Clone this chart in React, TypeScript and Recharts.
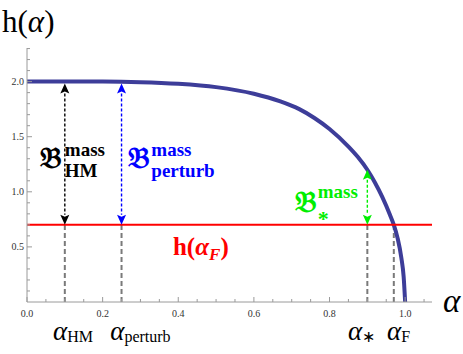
import React from "react";
import { LineChart, Line, XAxis, YAxis, ReferenceLine, ReferenceDot } from "recharts";

// curve
const alphaVals = [0, 0.1, 0.2, 0.3, 0.4, 0.5, 0.6, 0.67, 0.72, 0.76, 0.8, 0.85, 0.875, 0.9, 0.92, 0.94, 0.96, 0.97, 0.98, 0.99, 0.996, 1.0];
const hVals = [2.0, 2.0, 2.0, 1.995, 1.98, 1.95, 1.89, 1.82, 1.75, 1.67, 1.57, 1.41, 1.315, 1.2, 1.085, 0.95, 0.79, 0.7, 0.58, 0.4, 0.23, 0];

const xTicks = [0, 0.05, 0.1, 0.15, 0.2, 0.25, 0.3, 0.35, 0.4, 0.45, 0.5, 0.55, 0.6, 0.65, 0.7, 0.75, 0.8, 0.85, 0.9, 0.95, 1.0, 1.05];
const yTicks = [0.1, 0.2, 0.3, 0.4, 0.5, 0.6, 0.7, 0.8, 0.9, 1.0, 1.1, 1.2, 1.3, 1.4, 1.5, 1.6, 1.7, 1.8, 1.9, 2.0, 2.1, 2.2, 2.3];

const hF = 0.7;
const hTop = 2.0;
const hStar = 1.2;
const dashedAt = [0.1, 0.25, 0.9, 0.97];
const arrows = [
  { a: 0.1, to: hTop, color: "#000000", tip: 2 },
  { a: 0.25, to: hTop, color: "#0000ff", tip: 2 },
  { a: 0.9, to: hStar, color: "#00ee00", tip: 0 },
];

const data = alphaVals.map((a, i) => ({ a, h: hVals[i] }));

const SERIF = '"Liberation Serif", "Times New Roman", serif';
const AXIS = "#9a9a9a";

const isMult = (v: number, step: number) => Math.abs(v / step - Math.round(v / step)) < 1e-6;

const XTick = (props: any) => {
  const { x, y, payload } = props;
  const major = isMult(payload.value, 0.2);
  return (
    <g>
      <line x1={x} y1={y} x2={x} y2={y - (major ? 5 : 3)} stroke={AXIS} />
      {major && (
        <text x={x} y={y + 15} textAnchor="middle" style={{ fontFamily: SERIF, fontSize: 10 }} fill="#333">
          {payload.value.toFixed(1)}
        </text>
      )}
    </g>
  );
};

const YTick = (props: any) => {
  const { x, y, payload } = props;
  const major = isMult(payload.value, 0.5);
  return (
    <g>
      <line x1={x} y1={y} x2={x + (major ? 5 : 3)} y2={y} stroke={AXIS} />
      {major && (
        <text x={x - 3} y={y + 3.5} textAnchor="end" style={{ fontFamily: SERIF, fontSize: 10 }} fill="#333">
          {payload.value.toFixed(1)}
        </text>
      )}
    </g>
  );
};

const arrowShape = (color: string, tip: number) => (p: any) => {
  const { x1, y1, x2, y2 } = p;
  const x = x1;
  const top = Math.min(y1, y2) + tip;
  const bot = Math.max(y1, y2);
  const L = 10;
  const W = 4.5;
  return (
    <g>
      <line x1={x} y1={top + L} x2={x} y2={bot - L} stroke={color} strokeWidth={1.4} strokeDasharray="3 2" />
      <polygon points={`${x},${top} ${x - W},${top + L} ${x},${top + L - 2} ${x + W},${top + L}`} fill={color} />
      <polygon points={`${x},${bot} ${x - W},${bot - L} ${x},${bot - L + 2} ${x + W},${bot - L}`} fill={color} />
    </g>
  );
};

const textShape = (render: (cx: number, cy: number) => React.ReactNode) => (p: any) => (
  <g>{render(p.cx, p.cy)}</g>
);

const BLabel = (cx: number, cy: number, color: string, sup: string, sub: string, bw: number, supDy: number, subDy: number, subSize = 19) => (
  <g style={{ fontFamily: SERIF, fontWeight: "bold" }} fill={color}>
    <text x={cx} y={cy} style={{ fontSize: 30 }}>𝔅</text>
    <text x={cx + bw} y={cy + supDy} style={{ fontSize: 19 }}>{sup}</text>
    <text x={cx + bw} y={cy + subDy} style={{ fontSize: subSize }}>{sub}</text>
  </g>
);

const AlphaSub = (cx: number, cy: number, sub: string) => (
  <text x={cx} y={cy} style={{ fontFamily: SERIF }} fill="#000">
    <tspan style={{ fontSize: 27, fontStyle: "italic" }}>α</tspan>
    <tspan style={{ fontSize: 16 }} dy={2}>{sub}</tspan>
  </text>
);

export default function App() {
  return (
    <div style={{ position: "absolute", left: 0, top: 0, background: "#fff" }}>
      <LineChart width={463} height={354} data={data} margin={{ top: 48, right: 31, bottom: 22, left: 0 }}>
        <XAxis
          type="number"
          dataKey="a"
          domain={[0, 1.071]}
          ticks={xTicks}
          interval={0}
          tick={<XTick />}
          tickLine={false}
          tickSize={0}
          tickMargin={0}
          axisLine={{ stroke: AXIS }}
          height={30}
          allowDataOverflow
        />
        <YAxis
          type="number"
          domain={[0, 2.305]}
          ticks={yTicks}
          interval={0}
          tick={<YTick />}
          tickLine={false}
          tickSize={0}
          tickMargin={0}
          axisLine={{ stroke: AXIS }}
          width={27}
          allowDataOverflow
        />
        {dashedAt.map((a) => (
          <ReferenceLine
            key={"d" + a}
            segment={[{ x: a, y: 0 }, { x: a, y: hF }]}
            stroke="#7a7a7a"
            strokeWidth={2}
            strokeDasharray="5 3"
          />
        ))}
        <Line type="monotone" dataKey="h" stroke="#3d3d99" strokeWidth={4} dot={false} isAnimationActive={false} />
        <ReferenceLine y={hF} stroke="#ff0000" strokeWidth={2} />
        {arrows.map((ar) => (
          <ReferenceLine
            key={"a" + ar.a}
            segment={[{ x: ar.a, y: hF }, { x: ar.a, y: ar.to }]}
            shape={arrowShape(ar.color, ar.tip)}
          />
        ))}
        <ReferenceDot x={0.034} y={1.218} r={0} ifOverflow="visible"
          shape={textShape((cx, cy) => BLabel(cx, cy, "#000", "mass", "HM", 25, -12, 9))} />
        <ReferenceDot x={0.268} y={1.218} r={0} ifOverflow="visible"
          shape={textShape((cx, cy) => BLabel(cx, cy, "#0000ff", "mass", "perturb", 23, -12, 9))} />
        <ReferenceDot x={0.708} y={0.82} r={0} ifOverflow="visible"
          shape={textShape((cx, cy) => BLabel(cx, cy, "#00ee00", "mass", "*", 23, -14, 14, 22))} />
        <ReferenceDot x={0.386} y={0.43} r={0} ifOverflow="visible"
          shape={textShape((cx, cy) => (
            <text x={cx} y={cy} style={{ fontFamily: SERIF, fontWeight: "bold", fontSize: 25 }} fill="#ff0000">
              h(<tspan style={{ fontStyle: "italic" }}>α</tspan>
              <tspan style={{ fontStyle: "italic", fontSize: 17 }} dy={5}>F</tspan>
              <tspan dy={-5}>)</tspan>
            </text>
          ))} />
        <ReferenceDot x={0.069} y={-0.349} r={0} ifOverflow="visible" shape={textShape((cx, cy) => AlphaSub(cx, cy, "HM"))} />
        <ReferenceDot x={0.22} y={-0.349} r={0} ifOverflow="visible" shape={textShape((cx, cy) => AlphaSub(cx, cy, "perturb"))} />
        <ReferenceDot x={0.849} y={-0.349} r={0} ifOverflow="visible" shape={textShape((cx, cy) => AlphaSub(cx, cy, "∗"))} />
        <ReferenceDot x={0.952} y={-0.349} r={0} ifOverflow="visible" shape={textShape((cx, cy) => AlphaSub(cx, cy, "F"))} />
        <ReferenceDot x={1.1} y={-0.095} r={0} ifOverflow="visible"
          shape={textShape((cx, cy) => (
            <text x={cx} y={cy} style={{ fontFamily: SERIF, fontStyle: "italic", fontSize: 33 }} fill="#000">α</text>
          ))} />
        <ReferenceDot x={-0.066} y={2.45} r={0} ifOverflow="visible"
          shape={textShape((cx, cy) => (
            <text x={cx} y={cy} style={{ fontFamily: SERIF, fontSize: 31 }} fill="#000">
              h(<tspan style={{ fontStyle: "italic" }}>α</tspan>)
            </text>
          ))} />
      </LineChart>
    </div>
  );
}
